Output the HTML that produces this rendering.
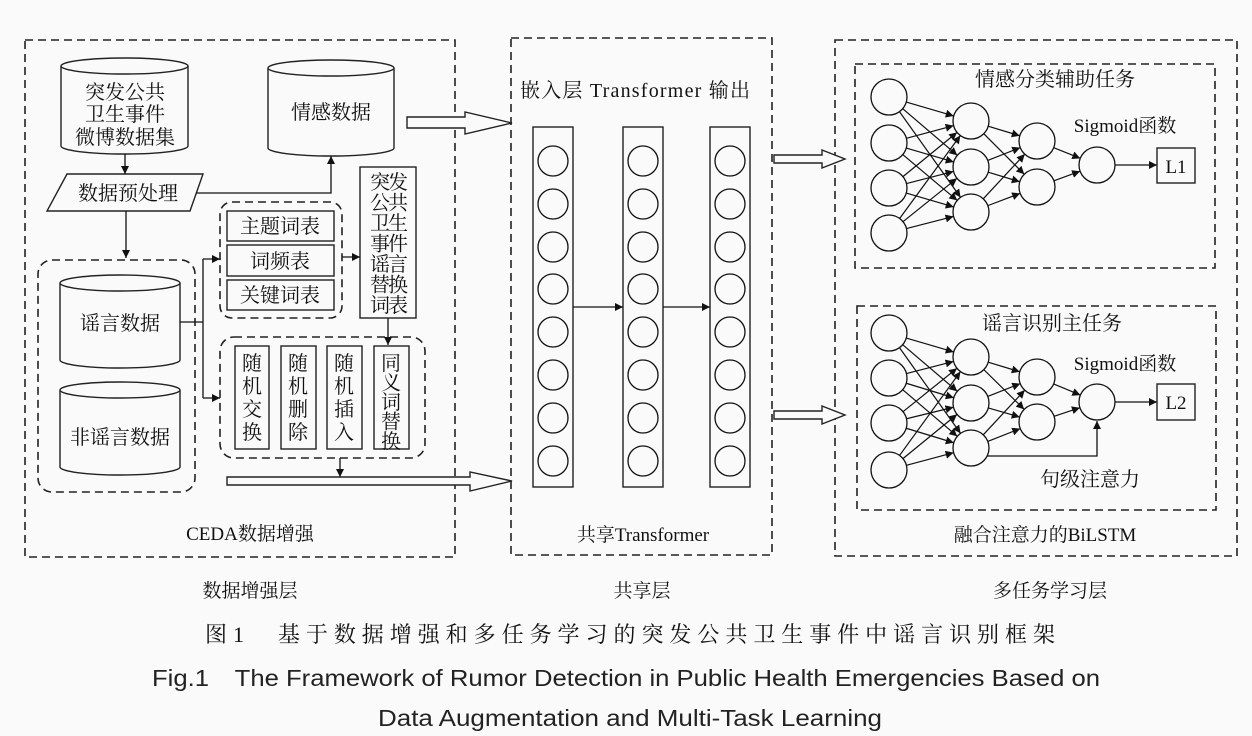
<!DOCTYPE html>
<html><head><meta charset="utf-8"><style>
html,body{margin:0;padding:0;background:#fafafa;}
svg{display:block;}
text{font-family:"Liberation Serif","Noto Serif CJK SC","Noto Sans CJK SC",serif;fill:#111;}
text.sans{font-family:"Liberation Sans","Noto Sans CJK SC",sans-serif;fill:#222;}
</style></head><body>
<svg id="s" width="1252" height="736" viewBox="0 0 1252 736" xmlns="http://www.w3.org/2000/svg">
<defs>
<marker id="a" viewBox="0 0 10 10" refX="10" refY="5" markerWidth="8" markerHeight="8" markerUnits="userSpaceOnUse" orient="auto"><path d="M0,0 L10,5 L0,10 z" fill="#111"/></marker>
</defs>
<rect width="1252" height="736" fill="#fafafa"/>
<g fill="none" stroke="#222" stroke-width="1.6" stroke-dasharray="8,5">
<rect x="25" y="40" width="430" height="517"/>
<rect x="511" y="38" width="261" height="517"/>
<rect x="835" y="40" width="402" height="516"/>
<rect x="855" y="64" width="360" height="204"/>
<rect x="857" y="306" width="359" height="204"/>
<rect x="38" y="260" width="157" height="232" rx="14"/>
<rect x="220" y="202" width="122" height="116" rx="12"/>
<rect x="220" y="337" width="205" height="121" rx="14"/>
</g>
<g fill="#fafafa" stroke="#222" stroke-width="1.4">
<path d="M61,66 L61,146 A63.5,8 0 0 0 188,146 L188,66"/><ellipse cx="124.5" cy="66" rx="63.5" ry="8"/>
<path d="M268,68 L268,148 A63,8 0 0 0 394,148 L394,68"/><ellipse cx="331" cy="68" rx="63" ry="8"/>
<path d="M60,283 L60,360 A60,8 0 0 0 180,360 L180,283"/><ellipse cx="120" cy="283" rx="60" ry="8"/>
<path d="M60,390 L60,467 A60,8 0 0 0 180,467 L180,390"/><ellipse cx="120" cy="390" rx="60" ry="8"/>
<path d="M67,174 L203,174 L190,211 L47,211 z"/>
<rect x="227" y="211" width="107" height="30"/><rect x="227" y="245" width="107" height="31"/><rect x="227" y="280" width="107" height="30"/>
<rect x="360" y="167" width="56" height="151"/>
<rect x="235" y="346" width="34" height="103"/><rect x="281" y="346" width="35" height="103"/><rect x="327" y="346" width="35" height="103"/><rect x="374" y="346" width="35" height="103"/>
<rect x="533" y="127" width="40" height="360"/><rect x="623" y="127" width="40" height="360"/><rect x="710" y="127" width="40" height="360"/>
<rect x="1157" y="148" width="38" height="35"/><rect x="1157" y="384" width="38" height="36"/>
<path d="M407,117 L465,117 L465,112 L512,123 L465,134 L465,128 L407,128 z"/>
<path d="M227,477 L470,477 L470,472 L512,481 L470,491 L470,485 L227,485 z"/>
<path d="M774,155 L822,155 L822,150 L845,159 L822,168 L822,163 L774,163 z"/>
<path d="M774,411 L822,411 L822,406 L845,415 L822,424 L822,419 L774,419 z"/>
</g>
<g stroke="#111" stroke-width="1.3" fill="none">
<line x1="125" y1="154" x2="125" y2="174" marker-end="url(#a)"/>
<line x1="126" y1="211" x2="126" y2="258" marker-end="url(#a)"/>
<polyline points="196,193 331,193 331,156" marker-end="url(#a)"/>
<polyline points="180,322 203,322"/><line x1="203" y1="259" x2="203" y2="398"/>
<line x1="203" y1="259" x2="220" y2="259" marker-end="url(#a)"/>
<line x1="203" y1="398" x2="220" y2="398" marker-end="url(#a)"/>
<line x1="342" y1="257" x2="360" y2="257" marker-end="url(#a)"/>
<line x1="388" y1="318" x2="388" y2="345" marker-end="url(#a)"/>
<line x1="340" y1="458" x2="340" y2="477" marker-end="url(#a)"/>
<line x1="573" y1="307" x2="623" y2="307" marker-end="url(#a)"/>
<line x1="663" y1="307" x2="710" y2="307" marker-end="url(#a)"/>
<line x1="1115" y1="165" x2="1157" y2="165" marker-end="url(#a)"/>
<line x1="1115" y1="402" x2="1157" y2="402" marker-end="url(#a)"/>
<polyline points="971,456 1097,456 1097,421" marker-end="url(#a)"/>
</g>
<g id="circ" fill="none" stroke="#111" stroke-width="1.3"></g>
<g id="lines" stroke="#111" stroke-width="1.2" fill="none"></g>
<g font-size="20" text-anchor="middle">
<text x="125" y="99">突发公共</text><text x="125" y="121">卫生事件</text><text x="125" y="144">微博数据集</text>
<text x="331" y="119">情感数据</text>
<text x="128" y="200">数据预处理</text>
<text x="120" y="330">谣言数据</text><text x="120" y="444">非谣言数据</text>
<text x="280" y="233">主题词表</text><text x="280" y="268">词频表</text><text x="280" y="302">关键词表</text>
<text x="250" y="540" font-size="19">CEDA数据增强</text>
<text x="635" y="97" font-size="20" textLength="230" lengthAdjust="spacing">嵌入层 Transformer 输出</text>
<text x="643" y="541" font-size="19">共享Transformer</text>
<text x="1055" y="86" font-size="20">情感分类辅助任务</text>
<text x="1125" y="132" font-size="19">Sigmoid函数</text>
<text x="1176" y="173" font-size="19">L1</text>
<text x="1052" y="330" font-size="20">谣言识别主任务</text>
<text x="1125" y="370" font-size="19">Sigmoid函数</text>
<text x="1176" y="409" font-size="19">L2</text>
<text x="1090" y="486" font-size="20">句级注意力</text>
<text x="1045" y="541" font-size="19">融合注意力的BiLSTM</text>
<text x="250" y="597" font-size="19">数据增强层</text>
<text x="642" y="597" font-size="19">共享层</text>
<text x="1050" y="597" font-size="19">多任务学习层</text>
<text x="630" y="642" font-size="22" textLength="850" lengthAdjust="spacing">图1　基于数据增强和多任务学习的突发公共卫生事件中谣言识别框架</text>
<text class="sans" x="626" y="686" font-size="23" textLength="948" lengthAdjust="spacingAndGlyphs">Fig.1　The Framework of Rumor Detection in Public Health Emergencies Based on</text>
<text class="sans" x="630" y="726" font-size="23" textLength="504" lengthAdjust="spacingAndGlyphs">Data Augmentation and Multi-Task Learning</text>
</g>
<g font-size="20" text-anchor="middle" id="vt"></g>
</svg>
<script>
var NS="http://www.w3.org/2000/svg";
function el(p,t,a,txt){var e=document.createElementNS(NS,t);for(var k in a)e.setAttribute(k,a[k]);if(txt)e.textContent=txt;document.getElementById(p).appendChild(e);return e;}
[553,643,730].forEach(function(x){[161,204,247,289,332,375,418,461].forEach(function(y){el("circ","circle",{cx:x,cy:y,r:15});});});
var rows=["突发","公共","卫生","事件","谣言","替换","词表"];
rows.forEach(function(r,i){el("vt","text",{x:388,y:189+i*20.5,"letter-spacing":"-2"},r);});
var cols=[[252,"随机交换"],[298,"随机删除"],[344,"随机插入"],[391,"同义词替换"]];
cols.forEach(function(c){var s=c[1];var step=s.length>4?19.5:23;for(var i=0;i<s.length;i++)el("vt","text",{x:c[0],y:370+i*step},s[i]);});
function net(inY,h1Y,h2Y,oY){
 var R=18,L=[[889,inY],[971,h1Y],[1037,h2Y],[1097,[oY]]];
 for(var l=0;l<3;l++){var A=L[l],B=L[l+1];
  A[1].forEach(function(ya){B[1].forEach(function(yb){
   var dx=B[0]-A[0],dy=yb-ya,d=Math.sqrt(dx*dx+dy*dy),ux=dx/d,uy=dy/d;
   el("lines","line",{x1:A[0]+ux*R,y1:ya+uy*R,x2:B[0]-ux*R,y2:yb-uy*R,"marker-end":"url(#a)"});});});}
 L.forEach(function(c){c[1].forEach(function(y){el("circ","circle",{cx:c[0],cy:y,r:R,fill:"#fafafa"});});});
}
net([97,143,188,233],[121,167,212],[141,187],165);
net([333,378,423,470],[357,403,448],[377,422],402);
</script>
</body></html>
